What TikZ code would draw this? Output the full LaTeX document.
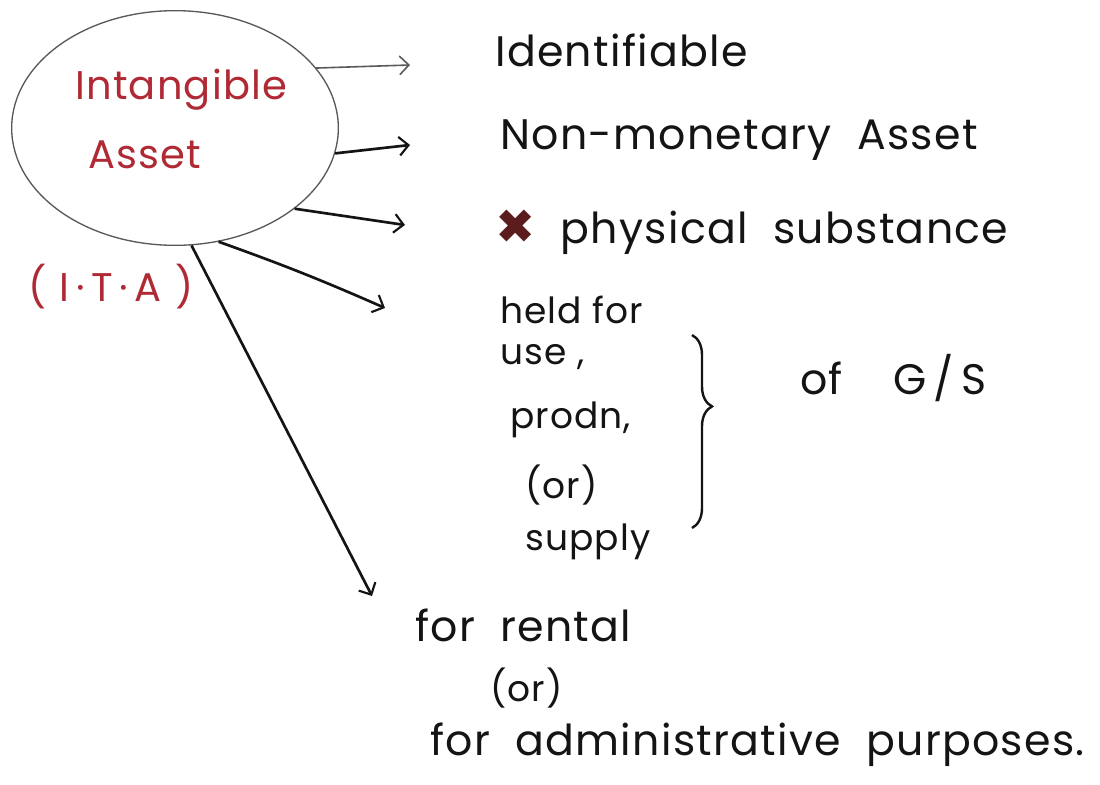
\documentclass[tikz,border=0pt]{standalone}
\usepackage{fontspec}
\setmainfont{Poppins}
\newfontfamily\symfont{DejaVu Sans}
\usetikzlibrary{shapes.geometric,arrows.meta,decorations.pathreplacing}
\definecolor{inkred}{HTML}{B02A35}
\definecolor{ink}{HTML}{141414}
\definecolor{crossred}{HTML}{5A1C1C}
\begin{document}
\begin{tikzpicture}[x=0.75pt,y=-0.75pt,
  hand/.style={text=ink,anchor=west,inner sep=0pt,font=\fontsize{32}{34}\selectfont\addfontfeature{LetterSpace=3}},
  small/.style={text=ink,anchor=west,inner sep=0pt,font=\fontsize{27}{29}\selectfont\addfontfeature{LetterSpace=3}},
  redtxt/.style={text=inkred,inner sep=0pt,font=\fontsize{30}{32}\selectfont\addfontfeature{LetterSpace=3}},
  conn/.style={draw=ink,line width=2pt,-{Straight Barb[length=7pt,width=14pt,line width=1.6pt]}},
  thinconn/.style={draw=ink!70,line width=1.2pt,-{Straight Barb[length=7pt,width=14pt,line width=1.2pt]}}
]
\useasboundingbox[fill=white] (0,0) rectangle (1100,785);

% ellipse
\node[ellipse,draw=gray!70!black,line width=1pt,minimum width=245pt,minimum height=176pt,inner sep=0pt] (ita) at (175,128) {};
\node[redtxt,anchor=west] (t1) at (75,90) {Intangible};
\node[redtxt,anchor=west] (t2) at (88,155) {Asset};
\node[redtxt,anchor=west,font=\fontsize{30}{32}\selectfont] (t3) at (28,287) {(\,\,I\,·\,T\,·\,A\,\,)};

% right texts
\node[hand] (p1) at (495,50) {Identifiable};
\node[hand] (p2) at (500,140) {Non-monetary\ \ Asset};
\node[hand] (p3) at (495,232) {{\symfont\fontsize{36}{38}\selectfont\color{crossred}✖}\ \ physical\ \ substance};
\node[small] (p4) at (500,310) {held for};
\node[small] (p5) at (500,357) {use ,};
\node[small] (p6) at (510,420) {prodn,};
\node[small] (p7) at (525,485) {(or)};
\node[small] (p8) at (525,542) {supply};
\node[hand] (p9) at (800,378) {of\ \ \ \ G\,/\,S};
\node[hand] (p10) at (415,625) {for\ \ rental};
\node[small] (p11) at (490,688) {(or)};
\node[hand] (p12) at (430,745) {for\ \ administrative\ \ purposes.};

% brace
\coordinate (b1) at (692,335);
\coordinate (b2) at (692,528);
\draw[ink,line width=1.8pt,decorate,decoration={brace,amplitude=15pt,aspect=0.37}] (b1) -- (b2);

% connector ends
\coordinate (e1) at (410,65);
\coordinate (e2) at (410,145);
\coordinate (e3) at (405,225);
\coordinate (e4) at (385,308);
\coordinate (e5) at (372,596);

\draw[thinconn] (ita.23) -- (e1);
\draw[conn] (ita.-9) -- (e2);
\draw[conn] (ita.-34) -- (e3);
\draw[conn] (ita.-69) to[bend left=2] (e4);
\draw[conn] (ita.-82) -- (e5);
\end{tikzpicture}
\end{document}
